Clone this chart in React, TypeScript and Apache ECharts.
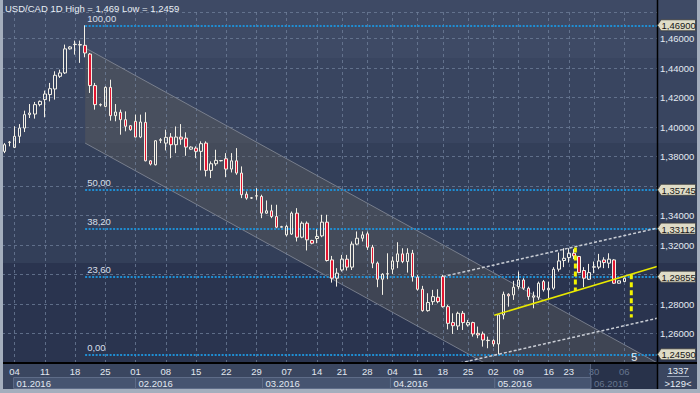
import React, { useEffect, useRef } from 'react';
import * as echarts from 'echarts';

// [open, close, low, high] per daily candle
const ohlc: number[][] = [
  [1.3835, 1.3880, 1.3823, 1.3891], [1.3896, 1.3898, 1.3869, 1.3905], [1.3862, 1.3937, 1.3857, 1.4005],
  [1.3937, 1.3993, 1.3891, 1.4020], [1.3993, 1.4084, 1.3966, 1.4111], [1.4084, 1.4095, 1.4061, 1.4156],
  [1.4088, 1.4152, 1.4057, 1.4170], [1.4152, 1.4174, 1.4140, 1.4180], [1.4186, 1.4224, 1.4066, 1.4247],
  [1.4220, 1.4260, 1.4174, 1.4299], [1.4258, 1.4351, 1.4186, 1.4378], [1.4344, 1.4367, 1.4333, 1.4389],
  [1.4367, 1.4530, 1.4360, 1.4559], [1.4530, 1.4543, 1.4525, 1.4548], [1.4559, 1.4561, 1.4491, 1.4586],
  [1.4556, 1.4559, 1.4435, 1.4586], [1.4554, 1.4502, 1.4473, 1.4690], [1.4495, 1.4281, 1.4231, 1.4502],
  [1.4281, 1.4152, 1.4118, 1.4299], [1.4150, 1.4152, 1.4140, 1.4160], [1.4140, 1.4269, 1.4134, 1.4276],
  [1.4269, 1.4077, 1.4043, 1.4321], [1.4077, 1.4102, 1.4039, 1.4156], [1.4100, 1.4050, 1.3948, 1.4118],
  [1.4050, 1.4005, 1.3971, 1.4106], [1.4009, 1.3982, 1.3975, 1.4013], [1.4039, 1.3932, 1.3930, 1.4084],
  [1.3932, 1.4034, 1.3925, 1.4084], [1.4032, 1.3771, 1.3767, 1.4100], [1.3771, 1.3749, 1.3740, 1.3775],
  [1.3744, 1.3907, 1.3740, 1.3910], [1.3910, 1.3914, 1.3891, 1.3925], [1.3891, 1.3930, 1.3841, 1.3982],
  [1.3932, 1.3880, 1.3789, 1.3959], [1.3880, 1.3932, 1.3823, 1.4004], [1.3932, 1.3918, 1.3880, 1.4020],
  [1.3925, 1.3864, 1.3805, 1.3964], [1.3850, 1.3864, 1.3846, 1.3869], [1.3857, 1.3835, 1.3789, 1.3869],
  [1.3835, 1.3887, 1.3706, 1.3903], [1.3891, 1.3706, 1.3665, 1.3903], [1.3706, 1.3751, 1.3654, 1.3767],
  [1.3751, 1.3774, 1.3737, 1.3846], [1.3771, 1.3773, 1.3767, 1.3776], [1.3785, 1.3715, 1.3660, 1.3823],
  [1.3715, 1.3771, 1.3692, 1.3823], [1.3771, 1.3688, 1.3676, 1.3857], [1.3688, 1.3541, 1.3518, 1.3733],
  [1.3545, 1.3518, 1.3507, 1.3563], [1.3518, 1.3520, 1.3512, 1.3525], [1.3532, 1.3534, 1.3507, 1.3586],
  [1.3529, 1.3416, 1.3382, 1.3541], [1.3416, 1.3432, 1.3412, 1.3502], [1.3432, 1.3393, 1.3382, 1.3473],
  [1.3393, 1.3321, 1.3314, 1.3473], [1.3321, 1.3324, 1.3319, 1.3330], [1.3269, 1.3326, 1.3258, 1.3337],
  [1.3274, 1.3416, 1.3269, 1.3427], [1.3416, 1.3253, 1.3224, 1.3450], [1.3253, 1.3348, 1.3246, 1.3360],
  [1.3348, 1.3235, 1.3163, 1.3360], [1.3231, 1.3212, 1.3205, 1.3235], [1.3244, 1.3258, 1.3212, 1.3307],
  [1.3262, 1.3355, 1.3253, 1.3405], [1.3355, 1.3095, 1.3088, 1.3405], [1.3099, 1.2975, 1.2945, 1.3126],
  [1.2975, 1.3009, 1.2918, 1.3043], [1.3031, 1.3104, 1.3020, 1.3133], [1.3104, 1.3050, 1.3027, 1.3133],
  [1.3050, 1.3206, 1.3031, 1.3224], [1.3206, 1.3246, 1.3199, 1.3292], [1.3246, 1.3269, 1.3224, 1.3292],
  [1.3276, 1.3185, 1.3167, 1.3292], [1.3185, 1.3077, 1.3043, 1.3201], [1.3077, 1.2968, 1.2914, 1.3088],
  [1.2968, 1.3002, 1.2862, 1.3009], [1.3004, 1.3006, 1.2968, 1.3144], [1.3036, 1.3092, 1.3004, 1.3122],
  [1.3088, 1.3140, 1.3043, 1.3219], [1.3140, 1.3088, 1.3077, 1.3178], [1.3088, 1.3144, 1.3013, 1.3178],
  [1.3144, 1.2986, 1.2952, 1.3167], [1.2982, 1.2900, 1.2891, 1.2997], [1.2900, 1.2755, 1.2748, 1.2923],
  [1.2755, 1.2810, 1.2748, 1.2873], [1.2816, 1.2850, 1.2794, 1.2896], [1.2846, 1.2816, 1.2805, 1.2900],
  [1.2986, 1.2782, 1.2776, 1.2997], [1.2782, 1.2669, 1.2628, 1.2794], [1.2674, 1.2653, 1.2597, 1.2737],
  [1.2651, 1.2737, 1.2624, 1.2748], [1.2737, 1.2674, 1.2624, 1.2753], [1.2658, 1.2674, 1.2647, 1.2692],
  [1.2674, 1.2597, 1.2579, 1.2680], [1.2601, 1.2590, 1.2568, 1.2647], [1.2597, 1.2556, 1.2511, 1.2613],
  [1.2554, 1.2552, 1.2500, 1.2579], [1.2552, 1.2529, 1.2511, 1.2561], [1.2529, 1.2726, 1.2459, 1.2730],
  [1.2726, 1.2866, 1.2696, 1.2884], [1.2866, 1.2855, 1.2782, 1.2873], [1.2862, 1.2914, 1.2828, 1.2957],
  [1.2918, 1.2963, 1.2900, 1.3020], [1.2963, 1.2907, 1.2896, 1.2975], [1.2907, 1.2850, 1.2828, 1.2918],
  [1.2846, 1.2855, 1.2771, 1.2884], [1.2846, 1.2941, 1.2828, 1.2952], [1.2952, 1.2896, 1.2884, 1.2963],
  [1.2896, 1.2907, 1.2839, 1.2952], [1.2907, 1.3036, 1.2896, 1.3050], [1.3036, 1.3092, 1.3020, 1.3149],
  [1.3095, 1.3110, 1.3050, 1.3178], [1.3115, 1.3144, 1.3081, 1.3178], [1.3144, 1.3126, 1.3104, 1.3172],
  [1.3122, 1.3013, 1.3009, 1.3126], [1.3027, 1.2975, 1.2914, 1.3050], [1.2968, 1.3013, 1.2963, 1.3072],
  [1.3050, 1.3052, 1.3009, 1.3088], [1.3050, 1.3092, 1.3036, 1.3140], [1.3099, 1.3081, 1.3043, 1.3117],
  [1.3077, 1.3104, 1.3043, 1.3144], [1.3099, 1.2941, 1.2936, 1.3104], [1.2941, 1.2957, 1.2938, 1.2960],
  [1.2952, 1.2975, 1.2950, 1.2980],
];

const slotCount = 130;
const categories = Array.from({ length: slotCount }, (_, i) => String(i));
const tickIndex = [2, 8, 14, 20, 26, 32, 38, 44, 50, 56, 62, 67, 72, 77, 82, 87, 92, 97, 102, 108, 112, 117, 123];
const tickLabels = ['04', '11', '18', '25', '01', '08', '15', '22', '29', '07', '14', '21', '28', '04', '11', '18', '25', '02', '09', '16', '23', '30', '06'];
const currentFrom = 117;
const monthLabels = ['01.2016', '02.2016', '03.2016', '04.2016', '05.2016', '06.2016'];
const monthStart = [1.7, 25.9, 51.1, 76.5, 97.2, 116.3];

const fibStart = 16;
const fibLevels = [1.469, 1.35745, 1.33112, 1.29855, 1.2459];
const fibLabels = ['100,00', '50,00', '38,20', '23,60', '0,00'];

const downTop = [[16, 1.4537], [129.5, 1.2402]];
const downBottom = [[16, 1.3891], [95.3, 1.24]];
const upTop = [[87, 1.2986], [129.5, 1.3314]];
const upBottom = [[90.4, 1.24], [129.5, 1.2703]];
const yellowLine = [[97.2, 1.2724], [129.5, 1.3054]];
const yellowDash1 = [[113.3, 1.3183], [113.3, 1.289]];
const yellowDash2 = [[124.4, 1.3002], [124.4, 1.2709]];
const waveLabel = '5';
const wavePos = [125, 1.2443];

const yMin = 1.24;
const yMax = 1.478;
const yStep = 0.02;
const title = 'USD/CAD 1D High = 1,469 Low = 1,2459';
const barCount = '1337';
const barInfo = '>129<';

const FONT = '"Liberation Sans", Arial, sans-serif';
const FS = 9.5;
const fmt = (v: number) => v.toFixed(5).replace('.', ',');

export default function App() {
  const ref = useRef<HTMLDivElement>(null);
  useEffect(() => {
    document.body.style.margin = '0';
    const chart = echarts.init(ref.current!, null, { renderer: 'svg' });
    const lineSeries = (data: number[][], style: any, z: number) => ({
      type: 'line', xAxisIndex: 1, yAxisIndex: 0, data, symbol: 'none', silent: true,
      lineStyle: style, z, animation: false,
    });
    const option: any = {
      animation: false,
      grid: { left: 2, right: 43, top: 12, bottom: 30 },
      xAxis: [
        {
          type: 'category', data: categories, boundaryGap: true,
          axisLine: { show: false }, axisTick: { show: false }, splitLine: { show: false },
          axisLabel: {
            interval: (i: number) => tickIndex.includes(i),
            formatter: (v: string) => {
              const k = tickIndex.indexOf(Number(v));
              return k >= 0 ? tickLabels[k] : '';
            },
            color: (v: string) => (Number(v) >= currentFrom ? '#66758f' : '#e2e8f0'),
            fontSize: FS, fontFamily: FONT, margin: 3,
          },
        },
        { type: 'value', min: -0.5, max: slotCount - 0.5, show: false },
      ],
      yAxis: {
        type: 'value', position: 'right', min: yMin, max: yMax, interval: yStep,
        axisLine: { show: false }, axisTick: { show: false },
        splitLine: { show: true, lineStyle: { type: [3, 3], color: 'rgba(112,128,155,0.75)', width: 1 } },
        axisLabel: {
          margin: 3, fontSize: FS, fontFamily: FONT, color: '#e4eaf2',
          formatter: (v: number) => {
            const r = v / yStep;
            if (Math.abs(r - Math.round(r)) > 1e-6 || v < 1.245) return '';
            if (fibLevels.some((f) => Math.abs(f - v) < 0.005)) return '';
            return fmt(v);
          },
        },
      },
      series: [
        {
          type: 'custom', xAxisIndex: 1, yAxisIndex: 0, silent: true, z: 1,
          data: [[0, 1.3]],
          renderItem: (_p: any, api: any) => ({
            type: 'polygon',
            shape: { points: [downTop[0], downTop[1], downBottom[1], downBottom[0]].map((p) => api.coord(p)) },
            style: { fill: 'rgba(92,92,92,0.42)' },
          }),
        },
        lineSeries(downTop, { color: 'rgba(140,146,158,0.75)', width: 1 }, 2),
        lineSeries(downBottom, { color: 'rgba(140,146,158,0.75)', width: 1 }, 2),
        {
          type: 'line', xAxisIndex: 1, yAxisIndex: 0, data: [], silent: true, z: 3,
          markLine: {
            silent: true, symbol: ['none', 'none'], animation: false,
            label: { show: false },
            lineStyle: { type: [3, 3], color: 'rgba(112,128,155,0.75)', width: 1 },
            data: tickIndex.map((i) => ({ xAxis: i })),
          },
        },
        {
          type: 'line', xAxisIndex: 1, yAxisIndex: 0, data: [], silent: true, z: 4,
          markLine: {
            silent: true, symbol: ['none', 'none'], animation: false,
            label: {
              show: true, position: 'insideStartTop', color: '#d8dfe9', fontSize: FS,
              fontFamily: FONT, distance: [2, 2],
            },
            lineStyle: { type: [2, 1.5], color: '#1f8ed3', width: 2 },
            data: fibLevels.map((v, i) => [
              { coord: [fibStart, v], label: { formatter: fibLabels[i] } },
              { coord: [slotCount - 0.5, v] },
            ]),
          },
        },
        {
          type: 'candlestick', xAxisIndex: 0, yAxisIndex: 0, data: ohlc, barWidth: 3, z: 5,
          itemStyle: {
            color: 'rgba(0,0,0,0)', color0: '#e21531',
            borderColor: '#f3f0e6', borderColor0: '#f3f0e6', borderWidth: 1,
          },
        },
        lineSeries(upTop, { color: '#c9cdd5', width: 1.5, type: [3, 2] }, 6),
        lineSeries(upBottom, { color: '#c9cdd5', width: 1.5, type: [3, 2] }, 6),
        lineSeries(yellowLine, { color: '#e9e900', width: 1.5 }, 7),
        lineSeries(yellowDash1, { color: '#f2f200', width: 3, type: [5, 3] }, 7),
        lineSeries(yellowDash2, { color: '#f2f200', width: 3, type: [5, 3] }, 7),
      ],
    };
    chart.setOption(option);

    const px = (i: number) => chart.convertToPixel({ xAxisIndex: 1 }, i) as number;
    const py = (v: number) => chart.convertToPixel({ yAxisIndex: 0 }, v) as number;
    const f = `${FS}px ${FONT}`;
    const g: any[] = [];

    // x-axis row: current period shade
    const xCur = px(monthStart[5]);
    g.push({ type: 'rect', z: -1, silent: true, shape: { x: xCur, y: 364, width: 657 - xCur, height: 25 }, style: { fill: 'rgb(40,50,74)' } });
    g.push({ type: 'line', z: 1, silent: true, shape: { x1: xCur, y1: 364, x2: xCur, y2: 389 }, style: { stroke: 'rgb(92,104,128)', lineWidth: 1 } });
    // month boxes
    monthLabels.forEach((m, k) => {
      const x0 = px(monthStart[k]);
      const x1 = k < monthLabels.length - 1 ? px(monthStart[k + 1]) : 657;
      const last = k === monthLabels.length - 1;
      if (!last) {
        g.push({ type: 'rect', z: 1, silent: true, shape: { x: x0 + 0.5, y: 377.5, width: x1 - x0, height: 11 }, style: { fill: 'rgb(70,84,112)', stroke: 'rgb(94,108,136)', lineWidth: 1 } });
      }
      g.push({ type: 'text', z: 2, silent: true, x: x0 + 3.5, y: 383.5, style: { text: m, font: f, fill: last ? '#66758f' : '#e2e8f0', textVerticalAlign: 'middle' } });
    });
    // black axis lines
    g.push({ type: 'line', z: 50, silent: true, shape: { x1: 3, y1: 363, x2: 697, y2: 363 }, style: { stroke: '#000', lineWidth: 2 } });
    g.push({ type: 'line', z: 50, silent: true, shape: { x1: 657.5, y1: 0, x2: 657.5, y2: 389 }, style: { stroke: '#000', lineWidth: 1.5 } });
    // fib price tags
    fibLevels.forEach((v) => {
      const y = py(v);
      g.push({
        type: 'polygon', z: 60, silent: true,
        shape: { points: [[657.5, y], [661, y - 5.5], [695.5, y - 5.5], [695.5, y + 5.5], [661, y + 5.5]] },
        style: { fill: '#dfdcc7', stroke: '#3c3c3c', lineWidth: 0.8 },
      });
      g.push({ type: 'text', z: 61, silent: true, x: 661.5, y: y + 0.5, style: { text: fmt(v), font: f, fill: '#161616', textVerticalAlign: 'middle' } });
    });
    // wave label
    g.push({ type: 'text', z: 61, silent: true, x: px(wavePos[0]), y: py(wavePos[1]), style: { text: waveLabel, font: `11px ${FONT}`, fill: '#e8eef5', textAlign: 'center', textVerticalAlign: 'middle' } });
    // title
    g.push({ type: 'text', z: 61, silent: true, x: 5, y: 8, style: { text: title, font: f, fill: '#e8eef5', textVerticalAlign: 'middle' } });
    // bottom right box
    g.push({ type: 'text', z: 61, silent: true, x: 678, y: 370.5, style: { text: barCount, font: f, fill: '#e8eef5', textAlign: 'center', textVerticalAlign: 'middle' } });
    g.push({ type: 'line', z: 61, silent: true, shape: { x1: 667, y1: 376.5, x2: 689, y2: 376.5 }, style: { stroke: '#9aa6ba', lineWidth: 1 } });
    g.push({ type: 'text', z: 61, silent: true, x: 678, y: 383, style: { text: barInfo, font: f, fill: '#e8eef5', textAlign: 'center', textVerticalAlign: 'middle' } });
    // window frame
    g.push({ type: 'rect', z: 90, silent: true, shape: { x: 0, y: 0, width: 3, height: 393 }, style: { fill: '#a4aebd' } });
    g.push({ type: 'rect', z: 90, silent: true, shape: { x: 697, y: 0, width: 3, height: 393 }, style: { fill: '#a4aebd' } });
    g.push({ type: 'rect', z: 90, silent: true, shape: { x: 0, y: 389, width: 700, height: 4 }, style: { fill: '#a4aebd' } });

    chart.setOption({ graphic: g });
    return () => chart.dispose();
  }, []);

  const bg =
    'linear-gradient(to bottom, rgb(62,74,101) 0px, rgb(62,74,101) 58px, rgb(57,69,96) 58px, rgb(57,69,96) 143px, ' +
    'rgb(51,63,89) 143px, rgb(51,63,89) 263px, rgb(42,52,79) 263px, rgb(42,52,79) 363px, rgb(58,70,96) 363px, rgb(58,70,96) 393px)';
  return <div ref={ref} style={{ width: 700, height: 393, background: bg }} />;
}
